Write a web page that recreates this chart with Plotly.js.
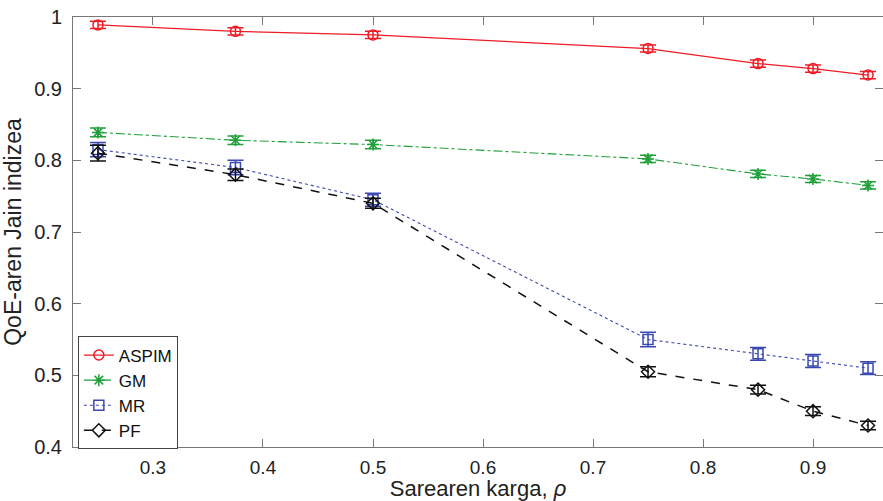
<!DOCTYPE html>
<html>
<head>
<meta charset="utf-8">
<script src="https://cdn.plot.ly/plotly-3.0.1.min.js"></script>
<style>
html,body{margin:0;padding:0;overflow:hidden;background:#fff;}
#chart{width:900px;height:501px;}
</style>
</head>
<body>
<div id="chart"></div>
<script>
const load = [0.25, 0.375, 0.5, 0.75, 0.85, 0.9, 0.95];
const aspim = [0.989, 0.980, 0.975, 0.956, 0.935, 0.928, 0.919];
const aspimErr = [0.005, 0.005, 0.005, 0.005, 0.005, 0.005, 0.005];
const gm = [0.839, 0.828, 0.822, 0.802, 0.781, 0.774, 0.765];
const gmErr = [0.006, 0.006, 0.006, 0.005, 0.005, 0.005, 0.005];
const mr = [0.815, 0.790, 0.745, 0.550, 0.530, 0.520, 0.510];
const mrErr = [0.010, 0.010, 0.009, 0.010, 0.009, 0.009, 0.009];
const pf = [0.810, 0.780, 0.740, 0.505, 0.480, 0.450, 0.430];
const pfErr = [0.011, 0.008, 0.007, 0.007, 0.006, 0.006, 0.006];
const names = ['ASPIM', 'GM', 'MR', 'PF'];
const xTicks = [0.3, 0.4, 0.5, 0.6, 0.7, 0.8, 0.9];
const yTicks = [0.4, 0.5, 0.6, 0.7, 0.8, 0.9, 1];

function tr(name, y, err, color, dash, symbol, lw) {
  return {
    x: load, y: y, name: name, type: 'scatter', mode: 'lines+markers',
    line: {color: color, width: lw, dash: dash},
    marker: {symbol: symbol, size: 10, color: color, line: {color: color, width: 1.5}},
    error_y: {type: 'data', array: err, visible: true, color: color, thickness: 1.5, width: 8}
  };
}
const data = [
  tr(names[0], aspim, aspimErr, '#ee1c25', 'solid', 'circle-open', 1.3),
  tr(names[1], gm, gmErr, '#1fa03a', 'dashdot', 'asterisk-open', 1.1),
  tr(names[2], mr, mrErr, '#3a48b0', 'dot', 'square-open', 1.1),
  tr(names[3], pf, pfErr, '#111111', 'dash', 'diamond-open', 1.5)
];
const font = 'Liberation Sans, Arial, sans-serif';
const layout = {
  width: 900, height: 501,
  margin: {l: 73, r: 17, t: 17, b: 54},
  paper_bgcolor: '#fff', plot_bgcolor: '#fff',
  showlegend: true,
  font: {family: font, size: 18, color: '#222'},
  xaxis: {
    range: [0.2273, 0.9636], tickvals: xTicks, ticktext: xTicks.map(String),
    showgrid: false, zeroline: false, showline: true, linecolor: '#777', linewidth: 1,
    mirror: 'ticks', ticks: 'inside', ticklen: 8, tickcolor: '#777',
    ticklabelstandoff: 3,
    tickfont: {family: font, size: 19, color: '#222'},
    title: {text: 'Sarearen karga, <i>ρ</i>', font: {family: font, size: 22, color: '#222'}, standoff: 0}
  },
  yaxis: {
    range: [0.4, 1.0], tickvals: yTicks, ticktext: ['0.4','0.5','0.6','0.7','0.8','0.9','1'],
    showgrid: false, zeroline: false, showline: true, linecolor: '#777', linewidth: 1,
    mirror: 'ticks', ticks: 'inside', ticklen: 8, tickcolor: '#777',
    ticklabelstandoff: 6,
    tickfont: {family: font, size: 20, color: '#222'},
    title: {text: 'QoE-aren Jain indizea', font: {family: font, size: 23, color: '#222'}, standoff: 8}
  },
  legend: {
    x: 0.006, y: 0.257, xanchor: 'left', yanchor: 'top',
    bgcolor: '#fff', bordercolor: '#444', borderwidth: 1,
    font: {family: font, size: 17, color: '#111'},
    tracegroupgap: 0, itemwidth: 30
  }
};
Plotly.newPlot('chart', data, layout, {displayModeBar: false, staticPlot: true});
</script>
</body>
</html>
